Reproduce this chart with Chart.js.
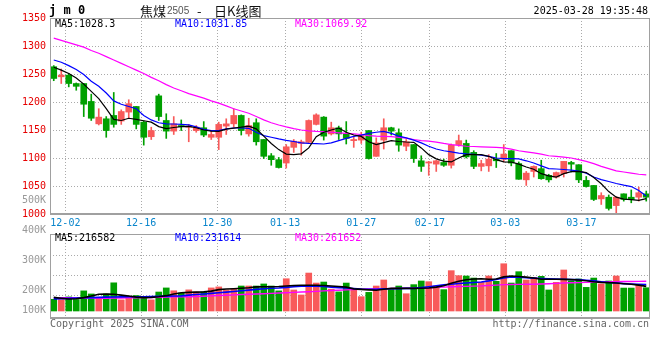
<!DOCTYPE html>
<html>
<head>
<meta charset="utf-8">
<script src="https://cdn.jsdelivr.net/npm/chart.js@4.4.1/dist/chart.umd.min.js"></script>
<style>
  body { margin: 0; background: #fff; }
  #wrap { position: relative; width: 660px; height: 360px; }
  canvas { position: absolute; left: 0; }
  #kline { top: 0; }
  #vol { top: 190px; }
</style>
</head>
<body>
<div id="wrap">
  <canvas id="kline" width="660" height="232"></canvas>
  <canvas id="vol" width="660" height="150"></canvas>
</div>
<script>
// ---- data, 80 trading days 11-28 .. 03-28 ----
var tickLabels = ['12-02', '12-16', '12-30', '01-13', '01-27', '02-17', '03-03', '03-17'];
var tickPos = [1.55, 11.65, 21.8, 30.85, 41.0, 50.15, 60.2, 70.35];

var open  = [1263,1245,1248,1233,1233,1201,1161,1170,1176,1166, 1182,1192,1164,1138,1211,1167,1148,1158,1155,1149,
             1154,1137,1137,1157,1161,1176,1143,1163,1133,1104, 1097,1091,1119,1126,1128,1160,1173,1143,1154,1143,
             1131,1132,1149,1103,1132,1154,1145,1121,1124,1095, 1091,1089,1092,1087,1124,1126,1110,1085,1086,1098,
             1098,1113,1090,1061,1076,1081,1069,1066,1072,1092, 1088,1060,1051,1027,1030,1015,1036,1030,1030,1036];
var high  = [1265,1259,1251,1234,1233,1214,1188,1174,1217,1186, 1204,1192,1166,1155,1214,1179,1174,1168,1160,1158,
             1165,1148,1164,1170,1188,1177,1171,1170,1133,1108, 1101,1124,1133,1132,1168,1179,1174,1164,1157,1165,
             1139,1146,1149,1136,1170,1155,1152,1133,1124,1104, 1094,1096,1098,1125,1141,1132,1113,1096,1106,1108,
             1124,1113,1093,1076,1086,1096,1071,1075,1094,1094, 1088,1067,1051,1038,1034,1031,1036,1043,1048,1041];
var low   = [1238,1233,1227,1221,1174,1167,1159,1137,1155,1160, 1171,1152,1123,1133,1167,1135,1142,1149,1129,1146,
             1138,1133,1115,1142,1155,1141,1139,1123,1099,1087, 1082,1082,1110,1105,1127,1159,1132,1141,1133,1125,
             1119,1126,1098,1103,1116,1141,1112,1113,1092,1076, 1069,1076,1085,1082,1121,1100,1081,1077,1076,1083,
             1093,1086,1062,1051,1066,1062,1057,1064,1066,1075, 1056,1048,1024,1017,1007,1001,1023,1020,1023,1023];
var close = [1242,1248,1233,1228,1196,1171,1173,1149,1160,1183, 1197,1160,1137,1149,1174,1148,1161,1156,1157,1155,
             1141,1142,1160,1161,1176,1149,1158,1129,1103,1097, 1083,1120,1130,1129,1167,1177,1139,1154,1143,1135,
             1133,1140,1099,1127,1154,1148,1123,1129,1099,1085, 1093,1095,1087,1123,1131,1102,1085,1090,1098,1095,
             1107,1091,1062,1073,1085,1063,1061,1074,1094,1089, 1061,1049,1026,1033,1010,1030,1026,1026,1038,1030];

var ma5  = [1262,1257,1251,1243,1232,1219,1206,1188,1169,1167, 1171,1169,1166.5,1164,1156,1152.5,1154.5,1156,1156.5,1154,
            1150,1148,1147.5,1151.5,1153.5,1155,1157,1152,1139,1126, 1115,1107,1106,1107.5,1118,1138,1146,1150,1153.5,1146,
            1141,1138.5,1129,1124,1127.5,1131,1129.5,1128.6,1128,1118, 1106,1098.5,1094.5,1093,1100,1106,1106,1106,1103,1097,
            1093,1092.8,1089,1084,1080,1072,1068,1066,1072,1075.5, 1076,1074,1065,1054,1040,1030,1026.5,1025.5,1024.5,1027.5];
var ma10 = [1275,1271,1265,1258,1249,1237,1228,1216,1202,1196, 1192,1188,1176,1168,1163,1161,1160.7,1160,1159,1155.5,
            1151,1149,1149,1152,1153.6,1153.6,1153,1146,1140,1137, 1134,1131.5,1129.5,1127,1126,1125.5,1125,1127,1131,1135,
            1138.5,1141,1144,1146,1147.5,1144,1139,1136,1132,1127, 1121,1116,1113,1111,1108.8,1107.5,1106.5,1105,1103,1100,
            1098.8,1098.8,1098.5,1095,1091,1086,1081,1080.4,1079.5,1078.5, 1076.5,1073,1066,1061.3,1058,1054.5,1051.5,1049,1042,1032];
var ma30 = [1314,1310,1306,1302,1298,1292,1287,1281,1275,1269, 1263,1257,1251,1244,1238,1231,1225,1220,1215,1211,
            1207,1202,1198,1193,1188,1184,1180,1174,1168,1163, 1159,1155.5,1152.5,1150,1148.5,1147.5,1147,1146,1145,1144,
            1143,1142,1140,1139,1138.6,1138,1137,1135.5,1133,1131, 1130,1128.5,1126,1124,1122.5,1121,1120.5,1120,1119.5,1119,
            1118,1116,1113,1111,1109,1107,1104,1103,1101.5,1100, 1097,1094,1090,1085,1081,1077,1075,1073,1071,1070];

// volume, thousands of lots
var volume = [103,100,124,101,177,150,120,150,248,98, 126,136,114,98,167,203,178,158,186,167,
              168,203,212,185,195,220,220,220,238,220, 177,284,185,141,334,246,255,192,168,246,
              185,126,164,220,273,191,220,152,232,264, 258,220,188,355,311,308,290,252,308,261,
              416,246,346,273,296,305,185,252,361,264, 282,208,290,238,264,308,202,202,226,205];
var vma5  = [120,112,105,108,118,132,148,150,148,140, 132,122,118,120,126,135,150,160,164,166,
             168,175,188,193,196,200,205,212,214,214, 216,220,224,226,226,226,224,220,215,210,
             195,190,186,182,192,199,199,199,199,200, 202,210,222,245,262,275,282,284,280,282,
             300,308,304,298,290,280,279,279,278,276, 273,266,258,252,250,246,240,235,228,217];
var vma10 = [107,109,111,113,116,118,120,122,123,124, 125,126,126,128,130,131,132,133,140,145,
             150,155,160,166,172,178,184,190,196,200, 202,208,214,219,220,218,215,210,206,202,
             198,193,191,192,195,196,197,199,199,206, 214,222,230,236,242,247,251,255,265,278,
             290,300,298,293,289,286,283,281,279,277, 276,271,265,258,251,246,241,237,234,232];
var vma30 = [118,117,116,115,114,113,112,112,113,114, 116,117,118,119,121,123,124,125,126,127,
             130,133,136,139,142,145,148,150,152,155, 158,161,164,167,170,173,177,180,183,186,
             189,191,193,195,197,198,199,200,200,202, 205,208,210,213,215,217,219,221,225,228,
             232,233,234,235,236,238,240,243,246,248, 250,252,254,256,257,258,259,260,261,262];
var volGrid = [138, 314, 490];
var volLabels = ['500K', '400K', '300K', '200K', '100K'];

// ---- styles ----
var RED = '#f85a5a', GREEN = '#00a000';
var MONO = 'DejaVu Sans Mono';
var GRID = '#aaaaaa';

var colors = open.map(function(o, i){ return close[i] >= o ? RED : GREEN; });

function pts(arr){ return arr.map(function(v, i){ return {x: i, y: v}; }); }
function maLine(arr, color, w){
  return {type: 'line', data: pts(arr), borderColor: color, borderWidth: w, pointRadius: 0, tension: 0, order: 0};
}
function txt(g, s, x, y, color, font, align){
  g.fillStyle = color; g.font = font; g.textAlign = align || 'left'; g.textBaseline = 'middle';
  g.fillText(s, x, y);
}
function frame(c){
  var a = c.chartArea, g = c.ctx, w = a.right - a.left, h = a.bottom - a.top;
  g.save();
  g.fillStyle = '#a0a0a0';
  g.fillRect(a.left, a.top, w, 1);
  g.fillRect(a.left, a.top, 1, h);
  g.fillRect(a.right - 1, a.top, 1, h);
  g.fillRect(a.left, a.bottom - 1, w, 2);
  g.restore();
}

var mainText = {
  id: 'mainText',
  afterDraw: function(c){
    var g = c.ctx;
    frame(c);
    g.save();
    txt(g, 'j m 0', 49, 11, '#000', 'bold 12px ' + MONO);
    txt(g, '焦煤', 140, 11, '#111', '13px "Noto Sans CJK SC"');
    txt(g, '2505', 167, 11.5, '#555', '10px "Liberation Sans"');
    txt(g, '-', 197, 11, '#111', '13px "Noto Sans CJK SC"');
    txt(g, '日K线图', 214, 11, '#111', '13px "Noto Sans CJK SC"');
    txt(g, '2025-03-28 19:35:48', 648, 11.5, '#000', '10px ' + MONO, 'right');
    txt(g, 'MA5:1028.3', 55, 24, '#000', '10px ' + MONO);
    txt(g, 'MA10:1031.85', 175, 24, '#0000ff', '10px ' + MONO);
    txt(g, 'MA30:1069.92', 295, 24, '#ff00ff', '10px ' + MONO);
    g.restore();
  }
};

var volText = {
  id: 'volText',
  afterDraw: function(c){
    var g = c.ctx;
    frame(c);
    g.save();
    var ly = [10.6, 40.7, 70.7, 100, 120];
    volLabels.forEach(function(s, k){ txt(g, s, 46, ly[k], '#999', '10px ' + MONO, 'right'); });
    txt(g, 'MA5:216582', 55, 48.7, '#000', '10px ' + MONO);
    txt(g, 'MA10:231614', 175, 48.7, '#0000ff', '10px ' + MONO);
    txt(g, 'MA30:261652', 295, 48.7, '#ff00ff', '10px ' + MONO);
    txt(g, 'Copyright 2025 SINA.COM', 50, 134, '#666', '10px ' + MONO);
    txt(g, 'http://finance.sina.com.cn', 649, 134, '#666', '10px ' + MONO, 'right');
    g.restore();
  }
};

var xBase = {
  type: 'linear', min: -0.5, max: 79.5, offset: false,
  afterBuildTicks: function(s){ s.ticks = tickPos.map(function(v){ return {value: v}; }); },
  grid: {color: GRID, drawTicks: false, offset: false},
  border: {display: false, dash: [1, 2]}
};

new Chart(document.getElementById('kline'), {
  type: 'bar',
  data: {
    datasets: [
      maLine(ma5, '#000000', 1.2),
      maLine(ma10, '#0000ff', 1.2),
      maLine(ma30, '#ff00ff', 1.2),
      {data: open.map(function(o, i){ return {x: i, y: [o, close[i]]}; }),
       backgroundColor: colors, barThickness: 6, minBarLength: 1, grouped: false, order: 1},
      {data: high.map(function(h, i){ return {x: i, y: [low[i], h]}; }),
       backgroundColor: colors, barThickness: 1, grouped: false, order: 2}
    ]
  },
  options: {
    responsive: false, animation: false, devicePixelRatio: 1,
    layout: {padding: {left: 0, right: 10, top: 18, bottom: 0}},
    plugins: {legend: {display: false}, tooltip: {enabled: false}},
    scales: {
      x: Object.assign({}, xBase, {
        afterFit: function(s){ s.height = 18; },
        ticks: {color: '#0a86cc', font: {family: MONO, size: 10}, padding: 3, maxRotation: 0, autoSkip: false,
                callback: function(v, i){ return tickLabels[i]; }}
      }),
      y: {
        min: 1000, max: 1350,
        afterFit: function(s){ s.width = 50; },
        ticks: {stepSize: 50, color: '#e60000', font: {family: MONO, size: 10}, padding: 4,
                callback: function(v){ return String(v); }},
        grid: {color: GRID, drawTicks: false},
        border: {display: false, dash: [1, 2]}
      }
    }
  },
  plugins: [mainText]
});

new Chart(document.getElementById('vol'), {
  type: 'bar',
  data: {
    datasets: [
      maLine(vma5, '#000000', 1.6),
      maLine(vma10, '#0000ff', 1.6),
      maLine(vma30, '#ff00ff', 1.4),
      {data: volume.map(function(v, i){ return {x: i, y: v}; }),
       backgroundColor: colors, barThickness: 6, grouped: false, order: 1}
    ]
  },
  options: {
    responsive: false, animation: false, devicePixelRatio: 1,
    layout: {padding: {left: 0, right: 10, top: 44, bottom: 0}},
    plugins: {legend: {display: false}, tooltip: {enabled: false}},
    scales: {
      x: Object.assign({}, xBase, {
        afterFit: function(s){ s.height = 22; },
        ticks: {display: false}
      }),
      y: {
        min: -61.6, max: 677.6,
        afterBuildTicks: function(s){ s.ticks = volGrid.map(function(v){ return {value: v}; }); },
        afterFit: function(s){ s.width = 50; },
        ticks: {display: false},
        grid: {color: GRID, drawTicks: false},
        border: {display: false, dash: [1, 2]}
      }
    }
  },
  plugins: [volText]
});
</script>
</body>
</html>
